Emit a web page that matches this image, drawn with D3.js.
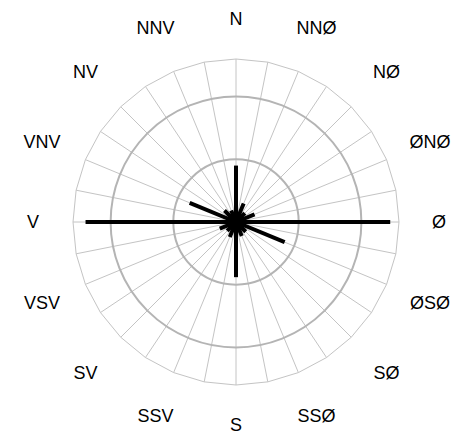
<!DOCTYPE html>
<html>
<head>
<meta charset="utf-8">
<script src="https://cdn.jsdelivr.net/npm/d3@7"></script>
<style>
    body { margin: 0; background: #fff; }
    text { font-family: "Liberation Sans", Arial, sans-serif; }
</style>
</head>
<body>
<div class="rose"></div>
<script>
// wind directions, clockwise from north
const directions = ["N", "NNØ", "NØ", "ØNØ", "Ø", "ØSØ", "SØ", "SSØ",
    "S", "SSV", "SV", "VSV", "V", "VNV", "NV", "NNV"]
// frequency per direction
const frequencies = [4.5, 1.6, 1.0, 1.6, 12.3, 4.2, 1.1, 1.2,
    4.4, 1.3, 1.0, 1.4, 12.0, 4.0, 1.3, 1.0]
const ringValues = [5, 10]
const maxValue = 13
const spokeCount = 32

const width = 466,
    height = 442,
    cx = 236,
    cy = 222,
    outerRadius = 163

const svg = d3.select(".rose")
    .append("svg")
    .attr("width", width)
    .attr("height", height)
    .append("g")
    .attr("transform", `translate(${cx},${cy})`)

const angle = d3.scalePoint()
    .domain(directions)
    .range([0, 2 * Math.PI - 2 * Math.PI / directions.length])
const r = d3.scaleLinear().domain([0, maxValue]).range([0, outerRadius])

const spokeAngles = d3.range(spokeCount).map(i => i * 2 * Math.PI / spokeCount)
const px = (a, rad) => rad * Math.sin(a)
const py = (a, rad) => -rad * Math.cos(a)

// spokes
svg.selectAll(".spoke")
    .data(spokeAngles)
    .enter().append("line")
    .attr("class", "spoke")
    .attr("x1", 0).attr("y1", 0)
    .attr("x2", a => px(a, r(maxValue)))
    .attr("y2", a => py(a, r(maxValue)))
    .attr("stroke", "#c4c4c4")
    .attr("stroke-width", 1)

// outer polygon
const outline = d3.lineRadial()
    .angle(a => a)
    .radius(() => r(maxValue))
    .curve(d3.curveLinearClosed)
svg.append("path")
    .attr("d", outline(spokeAngles))
    .attr("fill", "none")
    .attr("stroke", "#c4c4c4")
    .attr("stroke-width", 1)

// rings
svg.selectAll(".ring")
    .data(ringValues)
    .enter().append("circle")
    .attr("class", "ring")
    .attr("r", d => r(d))
    .attr("fill", "none")
    .attr("stroke", "#b4b4b4")
    .attr("stroke-width", 2)

// bars
svg.selectAll(".bar")
    .data(directions)
    .enter().append("line")
    .attr("class", "bar")
    .attr("x1", 0).attr("y1", 0)
    .attr("x2", (d, i) => px(angle(d), r(frequencies[i])))
    .attr("y2", (d, i) => py(angle(d), r(frequencies[i])))
    .attr("stroke", "#000")
    .attr("stroke-width", 4)

// direction labels
svg.selectAll(".label")
    .data(directions)
    .enter().append("text")
    .attr("class", "label")
    .attr("x", d => {
        const a = angle(d)
        return px(a, 203 + 10 * Math.abs(Math.sin(2 * a)))
    })
    .attr("y", d => {
        const a = angle(d)
        return py(a, 203 + 10 * Math.abs(Math.sin(2 * a)))
    })
    .attr("dy", "0.35em")
    .attr("text-anchor", "middle")
    .attr("font-size", 18)
    .attr("fill", "#000")
    .text(d => d)
</script>
</body>
</html>
